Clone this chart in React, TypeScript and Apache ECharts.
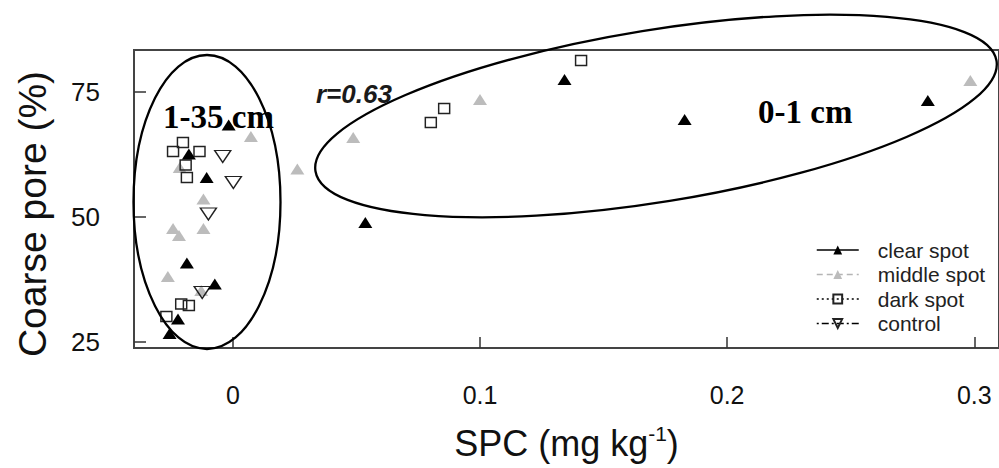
import React, { useEffect, useRef } from 'react';
import * as echarts from 'echarts';

// ---- data ----
const seriesNames = ['clear spot', 'middle spot', 'dark spot', 'control'];

const clearX = [-0.0017, -0.0178, -0.0106, -0.0186, -0.0073, -0.0222, -0.0256, 0.0536, 0.1342, 0.1828, 0.2812];
const clearY = [68.4, 62.6, 57.9, 40.8, 36.6, 29.6, 26.7, 48.9, 77.5, 69.5, 73.3];

const middleX = [0.0073, -0.0215, -0.0119, -0.0242, -0.0218, -0.0119, -0.0263, -0.0128, 0.0261, 0.0487, 0.1, 0.2984];
const middleY = [66.1, 59.9, 53.6, 47.7, 46.3, 47.7, 38.1, 35.3, 59.6, 65.9, 73.5, 77.3];

const darkX = [-0.0242, -0.0202, -0.0135, -0.0191, -0.0186, -0.0209, -0.0178, -0.0269, 0.0801, 0.0855, 0.1409];
const darkY = [63.1, 64.9, 63.1, 60.4, 57.9, 32.6, 32.3, 30.1, 68.9, 71.7, 81.3];

const controlX = [-0.0041, 0.0002, -0.0099, -0.0124];
const controlY = [62.1, 56.9, 50.6, 34.9];

const xTicks = [0, 0.1, 0.2, 0.3];
const yTicks = [25, 50, 75];

const SANS = 'Liberation Sans, Arial, sans-serif';
const SERIF = 'Liberation Serif, Times New Roman, serif';

const pairs = (xs: number[], ys: number[]) => xs.map((x, i) => [x, ys[i]]);

const INV_TRI = 'path://M0,0L16,0L8,12Z';

export default function App() {
  const ref = useRef<HTMLDivElement>(null);

  useEffect(() => {
    if (!ref.current) return;
    const chart = echarts.init(ref.current, undefined, { renderer: 'svg' });

    const hiddenLine = { width: 0, opacity: 0 };

    const option: any = {
      animation: false,
      backgroundColor: '#ffffff',
      textStyle: { fontFamily: SANS },
      grid: {
        left: 134,
        top: 50,
        width: 869,
        height: 298,
        show: true,
        borderColor: '#444',
        borderWidth: 2,
        containLabel: false,
      },
      xAxis: {
        type: 'value',
        min: -0.04,
        max: 0.31,
        axisLine: { show: false, onZero: false },
        axisTick: {
          show: true,
          inside: true,
          length: 11,
          customValues: xTicks,
          lineStyle: { color: '#333', width: 1.5 },
        },
        axisLabel: {
          customValues: xTicks,
          fontSize: 25,
          margin: 34,
          color: '#111',
          fontFamily: SANS,
        },
        splitLine: { show: false },
        name: '{a|SPC (mg kg}{s|-1}{a|)}',
        nameLocation: 'middle',
        nameGap: 75,
        nameTextStyle: {
          rich: {
            a: { fontSize: 36, fontFamily: SANS, color: '#111', lineHeight: 40 },
            s: { fontSize: 21, fontFamily: SANS, color: '#111', verticalAlign: 'top', lineHeight: 19 },
          },
        },
      },
      yAxis: {
        type: 'value',
        min: 23.8,
        max: 83.4,
        axisLine: { show: false, onZero: false },
        axisTick: {
          show: true,
          inside: true,
          length: 12,
          customValues: yTicks,
          lineStyle: { color: '#333', width: 1.5 },
        },
        axisLabel: {
          customValues: yTicks,
          fontSize: 26,
          margin: 34,
          color: '#111',
          fontFamily: SANS,
        },
        splitLine: { show: false },
        name: 'Coarse pore (%)',
        nameLocation: 'middle',
        nameGap: 82,
        nameTextStyle: { fontSize: 39, color: '#111', fontFamily: SANS, padding: [0, 30, 0, 0] },
      },
      legend: {
        orient: 'vertical',
        left: 816,
        top: 239.5,
        padding: 0,
        itemWidth: 42,
        itemHeight: 11,
        itemGap: 3.5,
        textStyle: { fontSize: 21, color: '#222', fontFamily: SANS, padding: [0, 0, 0, 14] },
        data: [
          { name: seriesNames[0], lineStyle: { color: '#000', width: 1.5, type: 'solid', opacity: 1 } },
          { name: seriesNames[1], lineStyle: { color: '#b5b5b5', width: 1.5, type: [6, 4], opacity: 1 } },
          { name: seriesNames[2], lineStyle: { color: '#000', width: 1.5, type: [2, 3], opacity: 1 } },
          { name: seriesNames[3], lineStyle: { color: '#000', width: 1.5, type: [2, 3, 7, 3], opacity: 1 } },
        ],
      },
      series: [
        {
          name: seriesNames[1],
          type: 'line',
          data: pairs(middleX, middleY),
          symbol: 'triangle',
          symbolSize: [14, 11],
          itemStyle: { color: '#bcbcbc' },
          lineStyle: hiddenLine,
          z: 2,
        },
        {
          name: seriesNames[2],
          type: 'line',
          data: pairs(darkX, darkY),
          symbol: 'rect',
          symbolSize: [11, 10],
          itemStyle: { color: 'rgba(255,255,255,0)', borderColor: '#222', borderWidth: 1.4 },
          lineStyle: hiddenLine,
          z: 3,
        },
        {
          name: seriesNames[3],
          type: 'line',
          data: pairs(controlX, controlY),
          symbol: INV_TRI,
          symbolSize: [16, 12],
          itemStyle: { color: 'rgba(255,255,255,0)', borderColor: '#222', borderWidth: 1.4 },
          lineStyle: hiddenLine,
          z: 4,
        },
        {
          name: seriesNames[0],
          type: 'line',
          data: pairs(clearX, clearY),
          symbol: 'triangle',
          symbolSize: [14, 11],
          itemStyle: { color: '#000' },
          lineStyle: hiddenLine,
          z: 5,
        },
      ],
      graphic: [
        {
          type: 'ellipse',
          shape: { cx: 207, cy: 202, rx: 73.5, ry: 147 },
          style: { fill: 'none', stroke: '#000', lineWidth: 2.3 },
          z: 10,
        },
        {
          type: 'ellipse',
          x: 656,
          y: 116,
          rotation: (9.2 * Math.PI) / 180,
          shape: { cx: 0, cy: 0, rx: 345, ry: 86 },
          style: { fill: 'none', stroke: '#000', lineWidth: 2.3 },
          z: 10,
        },
        {
          type: 'text',
          x: 163,
          y: 117,
          style: {
            text: '1-35 cm',
            font: 'bold 33px ' + SERIF,
            fill: '#000',
            textAlign: 'left',
            textVerticalAlign: 'middle',
          },
          z: 11,
        },
        {
          type: 'text',
          x: 758,
          y: 112,
          style: {
            text: '0-1 cm',
            font: 'bold 33px ' + SERIF,
            fill: '#000',
            textAlign: 'left',
            textVerticalAlign: 'middle',
          },
          z: 11,
        },
        {
          type: 'text',
          x: 316,
          y: 94,
          style: {
            text: 'r=0.63',
            font: 'italic bold 26px ' + SANS,
            fill: '#1a1a1a',
            textAlign: 'left',
            textVerticalAlign: 'middle',
          },
          z: 11,
        },
      ],
    };

    chart.setOption(option);
    return () => chart.dispose();
  }, []);

  return (
    <div
      ref={ref}
      style={{ position: 'fixed', left: 0, top: 0, width: 999, height: 468, background: '#fff' }}
    />
  );
}
